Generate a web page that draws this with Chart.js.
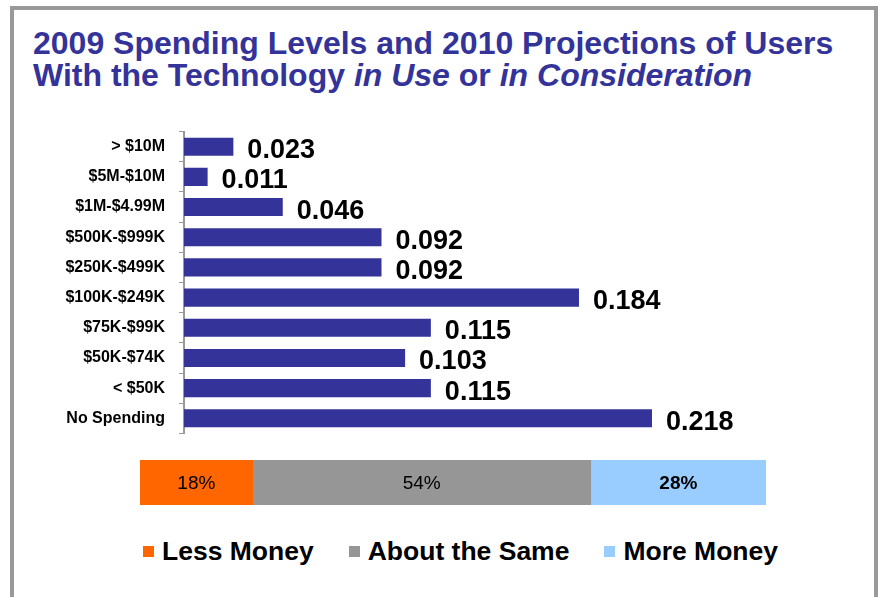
<!DOCTYPE html>
<html>
<head>
<meta charset="utf-8">
<script src="https://cdn.jsdelivr.net/npm/chart.js@4.4.1/dist/chart.umd.min.js"></script>
<style>
    html, body { margin: 0; padding: 0; background: #fff; }
    body { width: 878px; height: 597px; position: relative; overflow: hidden; font-family: "Liberation Sans", Arial, sans-serif; }
    #frame { position: absolute; left: 10px; top: 6px; width: 860px; height: 640px; border: 4px solid #999; border-bottom: none; }
    #title { position: absolute; left: 33px; top: 27px; color: #333399; font-weight: bold; font-size: 32px; line-height: 32px; white-space: nowrap; }
    #spendChart { position: absolute; left: 0; top: 108px; }
    #projChart { position: absolute; left: 0; top: 450px; }
    #legend { position: absolute; left: 143px; top: 538px; display: flex; align-items: center; white-space: nowrap; }
    #legend .item { display: flex; align-items: center; margin-right: 35px; font-weight: bold; font-size: 26.5px; line-height: 26px; color: #000; }
    #legend .box { width: 11px; height: 11px; margin-right: 8px; }
</style>
</head>
<body>
<div id="frame"></div>
<div id="title">2009 Spending Levels and 2010 Projections of Users<br>With the Technology <i>in Use</i> or <i>in Consideration</i></div>
<canvas id="spendChart" width="878" height="349"></canvas>
<canvas id="projChart" width="878" height="61"></canvas>
<div id="legend"></div>

<script>
// spending levels 2009
const spendLabels = ['> $10M', '$5M-$10M', '$1M-$4.99M', '$500K-$999K', '$250K-$499K',
    '$100K-$249K', '$75K-$99K', '$50K-$74K', '< $50K', 'No Spending'];
const spendValues = [0.023, 0.011, 0.046, 0.092, 0.092, 0.184, 0.115, 0.103, 0.115, 0.218];

// 2010 projections
const projLabels = ['Less Money', 'About the Same', 'More Money'];
const projValues = [18, 54, 28];
const projColors = ['#FF6600', '#969696', '#99CCFF'];

const FONT = '"Liberation Sans", Arial, sans-serif';

// draw the number after each bar
const valueLabels = {
    id: 'valueLabels',
    afterDatasetsDraw(chart) {
        const ctx = chart.ctx;
        const meta = chart.getDatasetMeta(0);
        ctx.save();
        ctx.font = 'bold 27px ' + FONT;
        ctx.fillStyle = '#000';
        ctx.textAlign = 'left';
        ctx.textBaseline = 'middle';
        meta.data.forEach((bar, i) => {
            ctx.fillText(spendValues[i].toFixed(3), bar.x + 14, bar.y + 4);
        });
        ctx.restore();
    }
};

const pctLabels = {
    id: 'pctLabels',
    afterDatasetsDraw(chart) {
        const ctx = chart.ctx;
        ctx.save();
        ctx.fillStyle = '#000';
        ctx.textAlign = 'center';
        ctx.textBaseline = 'middle';
        chart.data.datasets.forEach((ds, i) => {
            let bar = chart.getDatasetMeta(i).data[0];
            let c = bar.getCenterPoint();
            ctx.font = (i === 2 ? 'bold ' : '') + '19px ' + FONT;
            ctx.fillText(ds.data[0] + '%', c.x, c.y + 1);
        });
        ctx.restore();
    }
};

new Chart(document.getElementById('spendChart').getContext('2d'), {
    type: 'bar',
    data: {
        labels: spendLabels,
        datasets: [{
            data: spendValues,
            backgroundColor: '#333399',
            borderWidth: 0,
            barPercentage: 0.6,
            categoryPercentage: 1.0
        }]
    },
    options: {
        indexAxis: 'y',
        responsive: false,
        animation: false,
        devicePixelRatio: 1,
        layout: { padding: { left: 0, right: 50, top: 0, bottom: 0 } },
        plugins: {
            legend: { display: false },
            tooltip: { enabled: false }
        },
        scales: {
            x: { display: false, min: 0, max: 0.3 },
            y: {
                afterFit: (scale) => { scale.width = 184; },
                border: { display: true, color: '#999', width: 2 },
                grid: { drawOnChartArea: false, drawTicks: true, tickLength: 5, color: '#999', offset: true },
                ticks: {
                    color: '#000',
                    padding: 14,
                    font: { family: FONT, size: 16, weight: 'bold' }
                }
            }
        }
    },
    plugins: [valueLabels]
});

new Chart(document.getElementById('projChart').getContext('2d'), {
    type: 'bar',
    data: {
        labels: [''],
        datasets: projLabels.map((name, i) => ({
            label: name,
            data: [projValues[i]],
            backgroundColor: projColors[i],
            borderWidth: 0,
            barPercentage: 1.0,
            categoryPercentage: 1.0
        }))
    },
    options: {
        indexAxis: 'y',
        responsive: false,
        animation: false,
        devicePixelRatio: 1,
        layout: { padding: { left: 140, right: 112, top: 10, bottom: 6 } },
        plugins: {
            legend: { display: false },
            tooltip: { enabled: false }
        },
        scales: {
            x: { display: false, stacked: true, min: 0, max: 100 },
            y: { display: false, stacked: true }
        }
    },
    plugins: [pctLabels]
});

// legend below the bar (built in html, the chart.js legend can't get this far from the bar)
let legendDiv = document.getElementById('legend');
projLabels.forEach((name, i) => {
    let item = document.createElement('div');
    item.className = 'item';
    let box = document.createElement('span');
    box.className = 'box';
    box.style.background = projColors[i];
    item.appendChild(box);
    item.appendChild(document.createTextNode(name));
    legendDiv.appendChild(item);
});
</script>
</body>
</html>
